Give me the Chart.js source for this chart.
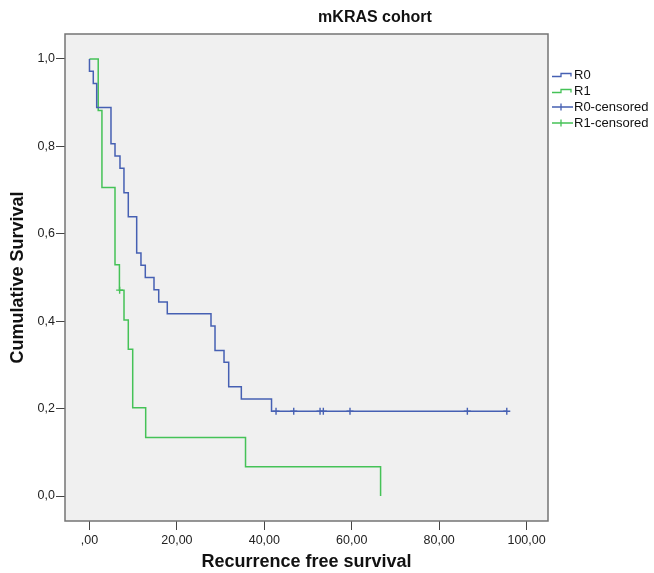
<!DOCTYPE html>
<html>
<head>
<meta charset="utf-8">
<title>mKRAS cohort</title>
<script src="https://cdn.jsdelivr.net/npm/chart.js@4.4.1/dist/chart.umd.min.js"></script>
<style>
  html, body { margin: 0; padding: 0; background: #fff; }
  #wrap { width: 654px; height: 573px; }
</style>
</head>
<body>
<div id="wrap"><canvas id="kmChart" width="654" height="573"></canvas></div>
<script>
/* ================= DATA ================= */
// step points of each Kaplan-Meier curve (time, survival after the step)
const r0Times = [0, 0, 0.87, 1.65, 4.92, 5.84, 6.98, 7.89, 8.88, 10.8, 11.78, 12.77, 14.76, 15.84, 17.8, 27.8, 28.72, 30.78, 31.85, 34.74, 41.65, 95.47];
const r0Surv  = [1, 0.972, 0.944, 0.889, 0.806, 0.778, 0.750, 0.694, 0.639, 0.556, 0.528, 0.500, 0.472, 0.444, 0.417, 0.389, 0.333, 0.306, 0.250, 0.222, 0.194, 0.194];

const r1Times = [0, 2.0, 2.85, 5.84, 6.85, 7.9, 8.88, 9.89, 12.86, 35.7, 66.6];
const r1Surv  = [1, 0.882, 0.706, 0.529, 0.471, 0.403, 0.336, 0.202, 0.134, 0.067, 0];

// censored observations
const r0CensTimes = [42.68, 46.73, 52.75, 53.5, 59.6, 86.45, 95.47];
const r0CensSurv  = [0.194, 0.194, 0.194, 0.194, 0.194, 0.194, 0.194];
const r1CensTimes = [6.9];
const r1CensSurv  = [0.471];

// axes
const xTickValues = [0, 20, 40, 60, 80, 100];
const xTickLabels = [',00', '20,00', '40,00', '60,00', '80,00', '100,00'];
const yTickValues = [0, 0.2, 0.4, 0.6, 0.8, 1.0];
const yTickLabels = ['0,0', '0,2', '0,4', '0,6', '0,8', '1,0'];

const seriesNames = ['R0', 'R1', 'R0-censored', 'R1-censored'];

/* ================= STYLE ================= */
const BLUE = '#4660b3';
const GREEN = '#45c257';
const FONT = "'Liberation Sans', Arial, sans-serif";

Chart.defaults.font.family = FONT;
Chart.defaults.color = '#222';

const toPoints = (xs, ys) => xs.map((x, i) => ({ x: x, y: ys[i] }));

/* ================= PLUGIN: frame, title, legend ================= */
const spssFrame = {
    id: 'spssFrame',
    beforeDraw(chart) {
        const { ctx, chartArea: a } = chart;
        ctx.save();
        ctx.fillStyle = '#f0f0f0';
        ctx.fillRect(a.left, a.top, a.right - a.left, a.bottom - a.top);
        ctx.restore();
    },
    afterDraw(chart) {
        const { ctx, chartArea: a } = chart;
        ctx.save();

        // plot border
        ctx.strokeStyle = '#747474';
        ctx.lineWidth = 1.5;
        ctx.strokeRect(a.left, a.top, a.right - a.left, a.bottom - a.top);

        // title
        ctx.fillStyle = '#111';
        ctx.font = "bold 16px " + FONT;
        ctx.textAlign = 'center';
        ctx.textBaseline = 'middle';
        ctx.fillText('mKRAS cohort', 375, 18);

        // legend
        const lx = a.right + 4;
        const rows = [75, 91, 107, 123];
        const cols = [BLUE, GREEN, BLUE, GREEN];
        ctx.font = "13px " + FONT;
        ctx.textAlign = 'left';
        rows.forEach((y, i) => {
            ctx.strokeStyle = cols[i];
            ctx.lineWidth = 1.3;
            ctx.beginPath();
            if (i < 2) {
                ctx.moveTo(lx, y + 1.5);
                ctx.lineTo(lx + 9, y + 1.5);
                ctx.lineTo(lx + 9, y - 1.5);
                ctx.lineTo(lx + 19, y - 1.5);
                ctx.lineTo(lx + 19, y + 1.5);
            } else {
                ctx.moveTo(lx, y);
                ctx.lineTo(lx + 21, y);
                ctx.moveTo(lx + 9, y - 3.5);
                ctx.lineTo(lx + 9, y + 3.5);
            }
            ctx.stroke();
            ctx.fillStyle = '#111';
            ctx.fillText(seriesNames[i], lx + 22, y);
        });
        ctx.restore();
    }
};

/* ================= CHART ================= */
new Chart(document.getElementById('kmChart'), {
    type: 'scatter',
    data: {
        datasets: [
            {
                label: seriesNames[0],
                data: toPoints(r0Times, r0Surv),
                showLine: true,
                stepped: true,
                borderColor: BLUE,
                borderWidth: 1.5,
                pointRadius: 0,
                fill: false
            },
            {
                label: seriesNames[1],
                data: toPoints(r1Times, r1Surv),
                showLine: true,
                stepped: true,
                borderColor: GREEN,
                borderWidth: 1.5,
                pointRadius: 0,
                fill: false
            },
            {
                label: seriesNames[2],
                data: toPoints(r0CensTimes, r0CensSurv),
                showLine: false,
                pointStyle: 'cross',
                pointRadius: 3.5,
                pointBorderColor: BLUE,
                pointBorderWidth: 1.4
            },
            {
                label: seriesNames[3],
                data: toPoints(r1CensTimes, r1CensSurv),
                showLine: false,
                pointStyle: 'cross',
                pointRadius: 3.5,
                pointBorderColor: GREEN,
                pointBorderWidth: 1.4
            }
        ]
    },
    options: {
        responsive: false,
        animation: false,
        devicePixelRatio: 1,
        layout: { padding: { left: 0, top: 34, right: 106, bottom: 0 } },
        plugins: {
            legend: { display: false },
            title: { display: false },
            tooltip: { enabled: false }
        },
        scales: {
            x: {
                type: 'linear',
                min: -5.6,
                max: 104.9,
                afterBuildTicks: s => { s.ticks = xTickValues.map(v => ({ value: v })); },
                afterFit: s => { s.height = 52; },
                ticks: {
                    callback: (v, i) => xTickLabels[i],
                    font: { size: 12.5 },
                    color: '#222',
                    padding: 3,
                    maxRotation: 0
                },
                grid: { drawOnChartArea: false, tickLength: 9, color: '#444' },
                border: { display: false },
                title: {
                    display: true,
                    text: 'Recurrence free survival',
                    font: { size: 18, weight: 'bold' },
                    color: '#111',
                    padding: { top: 0, bottom: 0 }
                }
            },
            y: {
                type: 'linear',
                min: -0.0572,
                max: 1.0572,
                afterBuildTicks: s => { s.ticks = yTickValues.map(v => ({ value: v })); },
                afterFit: s => { s.width = 65; },
                ticks: {
                    callback: (v, i) => yTickLabels[i],
                    font: { size: 12.5 },
                    color: '#222',
                    padding: 1
                },
                grid: { drawOnChartArea: false, tickLength: 9, color: '#444' },
                border: { display: false },
                title: {
                    display: true,
                    text: 'Cumulative Survival',
                    font: { size: 18, weight: 'bold' },
                    color: '#111',
                    padding: { top: 7, bottom: 0 }
                }
            }
        }
    },
    plugins: [spssFrame]
});
</script>
</body>
</html>
